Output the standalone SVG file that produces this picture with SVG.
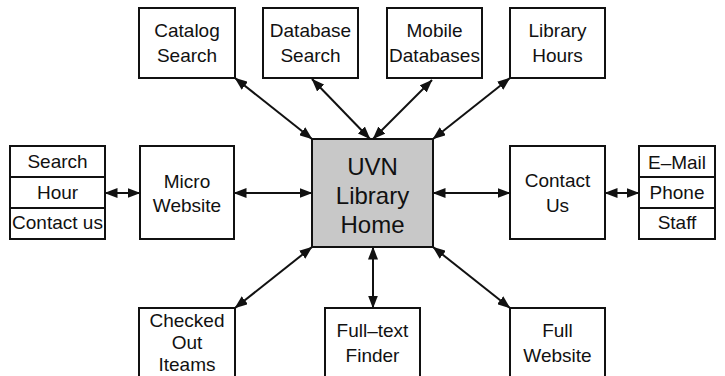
<svg xmlns="http://www.w3.org/2000/svg" width="725" height="376" viewBox="0 0 725 376">
  <defs>
    <marker id="arrow" viewBox="0 0 13 10" markerWidth="13" markerHeight="10" refX="12.5" refY="5" orient="auto-start-reverse" markerUnits="userSpaceOnUse">
      <path d="M0,0 L13,5 L0,10 z" fill="#111"/>
    </marker>
  </defs>
  <style>
    rect { fill: #fff; stroke: #111; stroke-width: 2; }
    .hub rect { fill: #c8c8c8; }
    line.div { stroke: #111; stroke-width: 2; }
    text { font-family: "Liberation Sans", Arial, sans-serif; font-size: 19px; fill: #111; text-anchor: middle; }
    .hub text { font-size: 24px; }
    #connectors line { stroke: #111; stroke-width: 2; marker-start: url(#arrow); marker-end: url(#arrow); }
  </style>

  <rect x="0" y="0" width="725" height="376" style="fill:#fff;stroke:none"/>

  <!-- top row -->
  <g id="catalog-search">
    <rect x="139" y="8" width="96" height="70"/>
    <text x="187" y="37">Catalog</text>
    <text x="187" y="62">Search</text>
  </g>
  <g id="database-search">
    <rect x="263" y="8" width="95" height="70"/>
    <text x="310.5" y="37">Database</text>
    <text x="310.5" y="62">Search</text>
  </g>
  <g id="mobile-databases">
    <rect x="387" y="8" width="95" height="70"/>
    <text x="434.5" y="37">Mobile</text>
    <text x="434.5" y="62">Databases</text>
  </g>
  <g id="library-hours">
    <rect x="510" y="8" width="95" height="70"/>
    <text x="557.5" y="37">Library</text>
    <text x="557.5" y="62">Hours</text>
  </g>

  <!-- middle row -->
  <g id="micro-links">
    <rect x="10" y="146" width="95" height="93"/>
    <line class="div" x1="10" y1="177" x2="105" y2="177"/>
    <line class="div" x1="10" y1="208" x2="105" y2="208"/>
    <text x="57.5" y="168">Search</text>
    <text x="57.5" y="199">Hour</text>
    <text x="57.5" y="229">Contact us</text>
  </g>
  <g id="micro-website">
    <rect x="140" y="146" width="94" height="93"/>
    <text x="187" y="188">Micro</text>
    <text x="187" y="212">Website</text>
  </g>
  <g id="library-home" class="hub">
    <rect x="312" y="139" width="121" height="108"/>
    <text x="372.5" y="175">UVN</text>
    <text x="372.5" y="204">Library</text>
    <text x="372.5" y="233">Home</text>
  </g>
  <g id="contact-us">
    <rect x="510" y="146" width="95" height="93"/>
    <text x="557.5" y="187">Contact</text>
    <text x="557.5" y="212">Us</text>
  </g>
  <g id="contact-links">
    <rect x="639" y="146" width="76" height="93"/>
    <line class="div" x1="639" y1="177" x2="715" y2="177"/>
    <line class="div" x1="639" y1="208" x2="715" y2="208"/>
    <text x="677" y="169">E–Mail</text>
    <text x="677" y="199">Phone</text>
    <text x="677" y="229">Staff</text>
  </g>

  <!-- bottom row -->
  <g id="checked-out">
    <rect x="139" y="308" width="96" height="80"/>
    <text x="187" y="327">Checked</text>
    <text x="187" y="349">Out</text>
    <text x="187" y="371">Iteams</text>
  </g>
  <g id="fulltext-finder">
    <rect x="325" y="308" width="95" height="80"/>
    <text x="372.5" y="337">Full–text</text>
    <text x="372.5" y="362">Finder</text>
  </g>
  <g id="full-website">
    <rect x="510" y="308" width="95" height="80"/>
    <text x="557.5" y="337">Full</text>
    <text x="557.5" y="362">Website</text>
  </g>

  <g id="connectors">
    <line x1="235" y1="78" x2="312" y2="139"/>
    <line x1="312" y1="79" x2="370" y2="139"/>
    <line x1="432" y1="80" x2="373" y2="139"/>
    <line x1="510" y1="78" x2="433" y2="139"/>
    <line x1="105" y1="193" x2="140" y2="193"/>
    <line x1="234" y1="193" x2="312" y2="193"/>
    <line x1="433" y1="193" x2="510" y2="193"/>
    <line x1="605" y1="193" x2="639" y2="193"/>
    <line x1="312" y1="247" x2="235" y2="308"/>
    <line x1="373" y1="247" x2="373" y2="308"/>
    <line x1="433" y1="247" x2="510" y2="308"/>
  </g>
</svg>
